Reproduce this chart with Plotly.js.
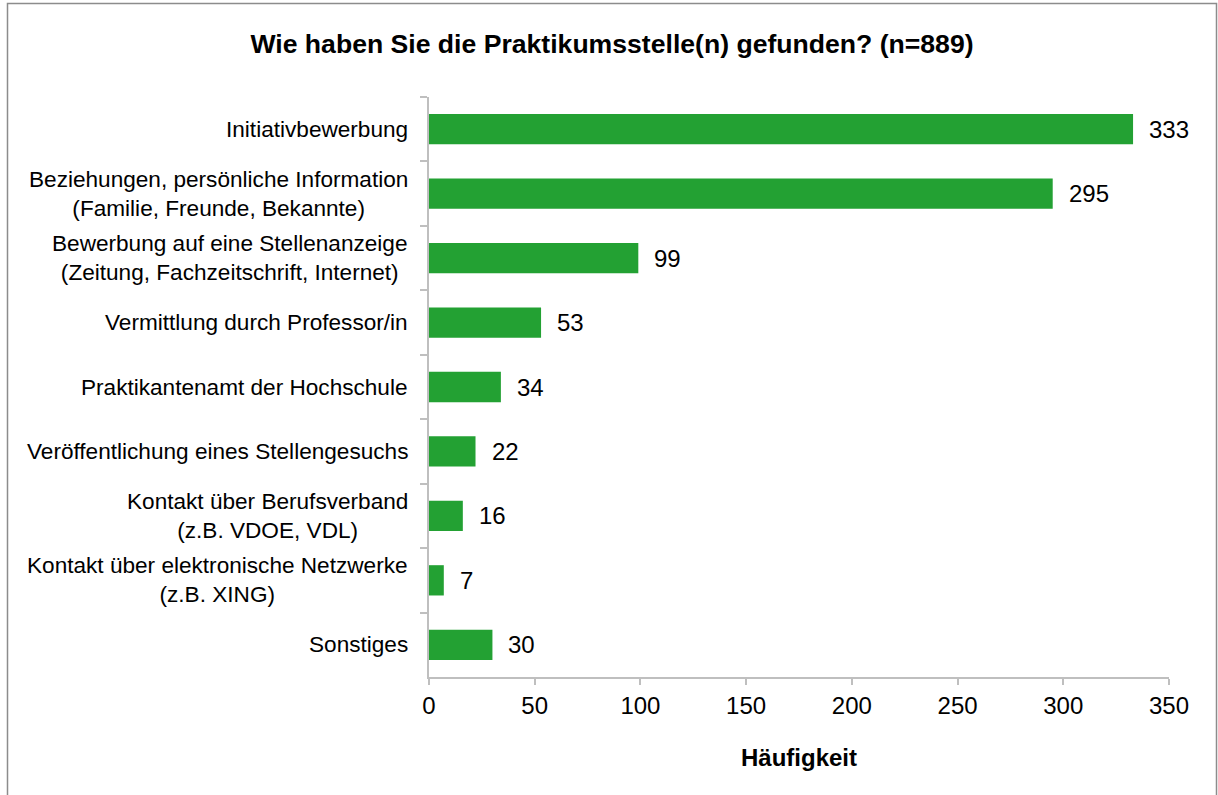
<!DOCTYPE html>
<html>
<head>
<meta charset="utf-8">
<script src="https://cdn.plot.ly/plotly-3.0.1.min.js"></script>
<style>
html,body{margin:0;padding:0;background:#fff;}
#chart{width:1218px;height:795px;}
</style>
</head>
<body>
<div id="chart"></div>
<script>
const categories = [
  "Initiativbewerbung",
  "Beziehungen, persönliche Information<br>(Familie, Freunde, Bekannte)",
  "Bewerbung auf eine Stellenanzeige<br>(Zeitung, Fachzeitschrift, Internet)",
  "Vermittlung durch Professor/in",
  "Praktikantenamt der Hochschule",
  "Veröffentlichung eines Stellengesuchs",
  "Kontakt über Berufsverband<br>(z.B. VDOE, VDL)",
  "Kontakt über elektronische Netzwerke<br>(z.B. XING)",
  "Sonstiges"
];
const counts = [333, 295, 99, 53, 34, 22, 16, 7, 30];
const xTicks = [0, 50, 100, 150, 200, 250, 300, 350];
const titleText = "Wie haben Sie die Praktikumsstelle(n) gefunden? (n=889)";
const xTitle = "Häufigkeit";

const FONT = "Liberation Sans, Arial, sans-serif";
const axisGrey = "#bfbfbf";

const trace = {
  type: "bar",
  orientation: "h",
  y: categories,
  x: counts,
  marker: {color: "#23a133", line: {width: 0}},
  hoverinfo: "x+y"
};

const annotations = [];
categories.forEach((c, i) => {
  annotations.push({
    xref: "paper", yref: "y", x: 0, y: c,
    text: c, showarrow: false, xanchor: "right", yanchor: "middle",
    align: "center", xshift: -19,
    font: {family: FONT, size: 22.6, color: "#000"}
  });
  annotations.push({
    xref: "x", yref: "y", x: counts[i], y: c,
    text: String(counts[i]), showarrow: false, xanchor: "left", yanchor: "middle",
    xshift: 14,
    font: {family: FONT, size: 24, color: "#000"}
  });
});
annotations.push({
  xref: "paper", yref: "paper", x: 0.5, y: -(757 - 677) / 580,
  text: "<b>" + xTitle + "</b>", showarrow: false, xanchor: "center", yanchor: "middle",
  font: {family: FONT, size: 24, color: "#000"}
});

const layout = {
  width: 1218, height: 795,
  margin: {l: 429, r: 49, t: 97, b: 118},
  paper_bgcolor: "#fff", plot_bgcolor: "#fff",
  showlegend: false,
  bargap: 0.53,
  title: {
    text: "<b>" + titleText + "</b>",
    x: 612 / 1218, xanchor: "center", xref: "container",
    y: 1 - 44 / 795, yanchor: "middle", yref: "container",
    font: {family: FONT, size: 26.6, color: "#000"}
  },
  xaxis: {
    range: [0, 350], tickvals: xTicks, ticktext: xTicks.map(String),
    showgrid: false, zeroline: false,
    showline: true, linecolor: axisGrey, linewidth: 2,
    ticks: "outside", ticklen: 6, tickcolor: axisGrey, tickwidth: 2,
    tickfont: {family: FONT, size: 24, color: "#000"},
    fixedrange: true
  },
  yaxis: {
    type: "category", autorange: "reversed",
    showticklabels: false, showgrid: false, zeroline: false,
    showline: true, linecolor: axisGrey, linewidth: 2,
    ticks: "outside", tickson: "boundaries", ticklen: 7, tickcolor: axisGrey, tickwidth: 2,
    fixedrange: true
  },
  annotations: annotations,
  shapes: [{
    type: "rect", xref: "paper", yref: "paper",
    x0: (7.5 - 429) / 740, x1: (1216.5 - 429) / 740,
    y0: (677 - 800) / 580, y1: (677 - 3.5) / 580,
    line: {color: "#8c8c8c", width: 1.5}, fillcolor: "rgba(0,0,0,0)"
  }]
};

Plotly.newPlot("chart", [trace], layout, {displayModeBar: false, staticPlot: true});
</script>
</body>
</html>
